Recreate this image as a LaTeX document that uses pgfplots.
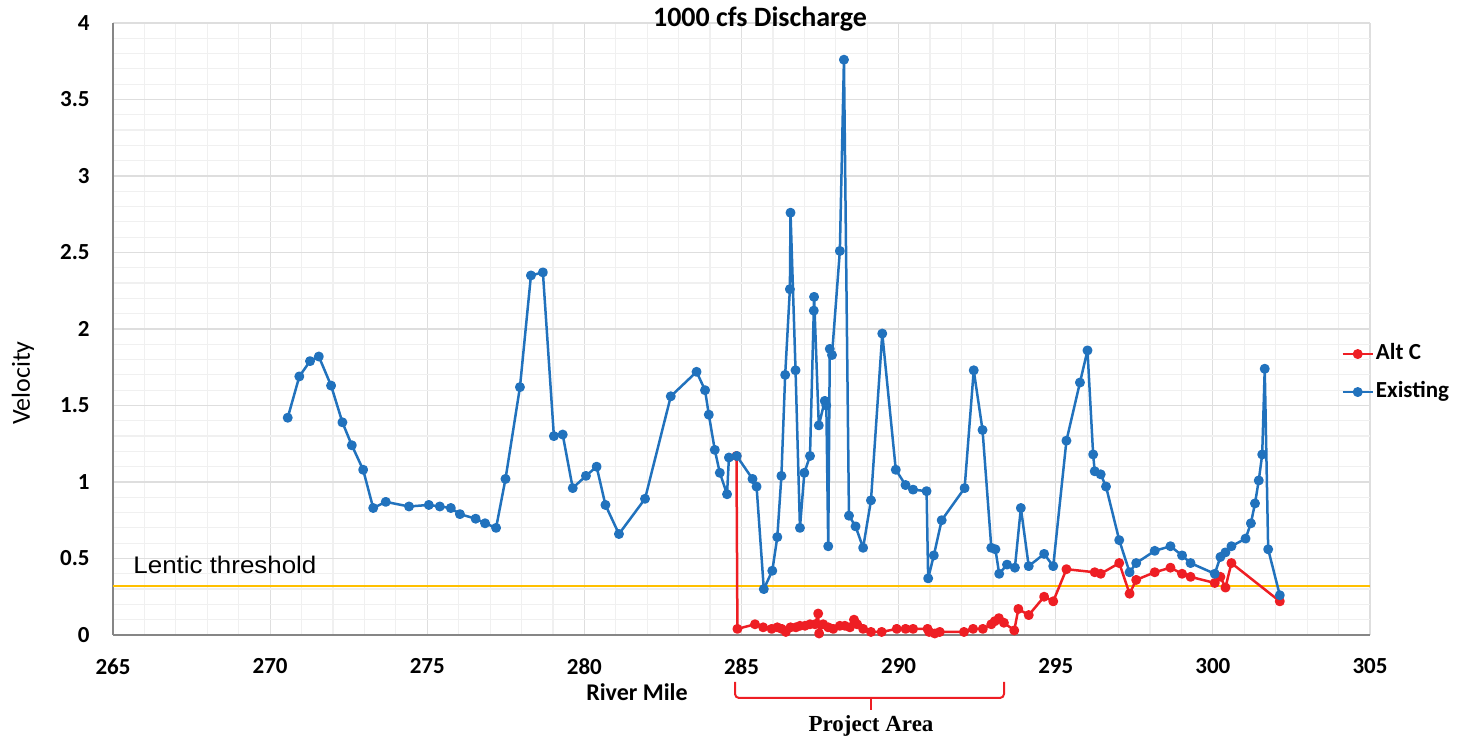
\documentclass[border=0pt]{standalone}
\usepackage{fontspec}
\setmainfont{Carlito}
\newfontfamily\arialfont{Liberation Sans}
\newfontfamily\timesfont{Liberation Serif}
\usepackage{pgfplots}
\pgfplotsset{compat=1.18}
\definecolor{exblue}{RGB}{33,114,189}
\definecolor{altred}{RGB}{238,30,36}
\definecolor{throrange}{RGB}{255,192,0}
\definecolor{axgray}{RGB}{134,134,134}
\begin{document}
\begin{tikzpicture}
\useasboundingbox (-56.5pt,-53.5pt) rectangle (675.5pt,317.5pt);
\begin{axis}[
  at={(0pt,0pt)}, anchor=south west,
  scale only axis, width=628.5pt, height=306pt,
  xmin=265, xmax=305, ymin=0, ymax=4,
  xtick distance=5, ytick distance=0.5,
  minor x tick num=4, minor y tick num=4,
  grid=both,
  major grid style={draw=black!13, line width=0.6pt},
  minor grid style={draw=black!6, line width=0.6pt},
  axis x line*=bottom, axis y line*=left,
  axis line style={draw=axgray, line width=1pt},
  major tick length=0pt, minor tick length=0pt,
  tick style={draw=none},
  /pgf/number format/assume math mode=true,
  ticklabel style={font=\fontsize{11.5}{13}\selectfont\bfseries, inner sep=0pt},
  xticklabel style={anchor=north, yshift=-11.5pt},
  yticklabel style={anchor=east, xshift=-11.5pt},
  clip=false,
  legend style={at={(rel axis cs:0.977,0.428)}, anchor=west, draw=none, fill=none,
    inner sep=0pt, row sep=8pt, column sep=1pt,
    font=\fontsize{11.5}{13}\selectfont\bfseries,
    nodes={inner sep=0pt, text height=8pt, text depth=3pt}},
  legend cell align=left,
  legend image code/.code={\draw[mark repeat=2,mark phase=2,#1] plot coordinates {(0pt,0pt) (7.5pt,0pt) (15pt,0pt)};},
]
\addplot[throrange, line width=1.4pt, forget plot] coordinates {(265,0.32) (305,0.32)};
\addplot[altred, line width=1.25pt, line join=round, mark=*, mark size=1.85pt, mark options={fill=altred, draw=altred}] coordinates {
(284.84,1.17) (284.87,0.04) (285.43,0.07) (285.69,0.05) (285.96,0.04) (286.14,0.05)
(286.28,0.04) (286.41,0.02) (286.56,0.05) (286.73,0.05) (286.86,0.06) (287.02,0.06)
(287.18,0.07) (287.34,0.07) (287.44,0.14) (287.47,0.01) (287.60,0.07) (287.76,0.05)
(287.92,0.04) (288.13,0.06) (288.29,0.06) (288.45,0.05) (288.58,0.10) (288.68,0.07)
(288.87,0.04) (289.12,0.02) (289.46,0.02) (289.94,0.04) (290.22,0.04) (290.46,0.04)
(290.92,0.04) (290.97,0.02) (291.15,0.01) (291.31,0.02) (292.08,0.02) (292.37,0.04)
(292.68,0.04) (292.95,0.07) (293.06,0.09) (293.19,0.11) (293.35,0.08) (293.68,0.03)
(293.81,0.17) (294.14,0.13) (294.63,0.25) (294.92,0.22) (295.34,0.43) (296.24,0.41)
(296.43,0.40) (297.02,0.47) (297.35,0.27) (297.56,0.36) (298.15,0.41) (298.65,0.44)
(299.02,0.40) (299.29,0.38) (300.06,0.34) (300.24,0.38) (300.40,0.31) (300.59,0.47)
(302.13,0.22)
};
\addlegendentry{Alt C}
\addplot[exblue, line width=1.25pt, line join=round, mark=*, mark size=1.85pt, mark options={fill=exblue, draw=exblue}] coordinates {
(270.56,1.42) (270.93,1.69) (271.27,1.79) (271.55,1.82) (271.94,1.63) (272.30,1.39)
(272.60,1.24) (272.96,1.08) (273.28,0.83) (273.68,0.87) (274.42,0.84) (275.05,0.85)
(275.40,0.84) (275.75,0.83) (276.04,0.79) (276.54,0.76) (276.84,0.73) (277.19,0.70)
(277.49,1.02) (277.95,1.62) (278.30,2.35) (278.68,2.37) (279.03,1.30) (279.31,1.31)
(279.63,0.96) (280.05,1.04) (280.39,1.10) (280.67,0.85) (281.10,0.66) (281.93,0.89)
(282.75,1.56) (283.57,1.72) (283.84,1.60) (283.96,1.44) (284.15,1.21) (284.31,1.06)
(284.54,0.92) (284.60,1.16) (284.85,1.17) (285.35,1.02) (285.48,0.97) (285.71,0.30)
(285.98,0.42) (286.14,0.64) (286.27,1.04) (286.39,1.70) (286.54,2.26) (286.56,2.76)
(286.72,1.73) (286.86,0.70) (287.00,1.06) (287.18,1.17) (287.30,2.12) (287.31,2.21)
(287.46,1.37) (287.65,1.53) (287.70,1.50) (287.76,0.58) (287.81,1.87) (287.88,1.83)
(288.13,2.51) (288.26,3.76) (288.42,0.78) (288.63,0.71) (288.87,0.57) (289.12,0.88)
(289.48,1.97) (289.91,1.08) (290.22,0.98) (290.46,0.95) (290.89,0.94) (290.94,0.37)
(291.12,0.52) (291.37,0.75) (292.10,0.96) (292.39,1.73) (292.67,1.34) (292.95,0.57)
(293.08,0.56) (293.20,0.40) (293.45,0.46) (293.70,0.44) (293.89,0.83) (294.14,0.45)
(294.63,0.53) (294.92,0.45) (295.34,1.27) (295.77,1.65) (296.01,1.86) (296.19,1.18)
(296.24,1.07) (296.43,1.05) (296.60,0.97) (297.02,0.62) (297.35,0.41) (297.56,0.47)
(298.15,0.55) (298.65,0.58) (299.02,0.52) (299.29,0.47) (300.06,0.40) (300.24,0.51)
(300.40,0.54) (300.59,0.58) (301.04,0.63) (301.21,0.73) (301.34,0.86) (301.46,1.01)
(301.57,1.18) (301.65,1.74) (301.76,0.56) (302.13,0.26)
};
\addlegendentry{Existing}
\end{axis}
% titles and labels
\node[anchor=base, font=\fontsize{14}{16}\selectfont\bfseries] at (323.5pt,304pt) {1000 cfs Discharge};
\node[anchor=base, font=\fontsize{12}{14}\selectfont\bfseries] at (262pt,-33pt) {River Mile};
\node[rotate=90, font=\fontsize{13}{15}\selectfont] at (-45pt,126pt) {Velocity};
\node[anchor=base west, inner sep=0pt, xscale=1.08, font=\arialfont\fontsize{12}{14}\selectfont] at (10pt,30.5pt) {Lentic threshold};
% project area bracket
\draw[altred, line width=1pt, rounded corners=2pt] (311pt,-23.5pt) -- (311pt,-31.5pt) -- (445.5pt,-31.5pt) -- (445.5pt,-23.5pt);
\draw[altred, line width=1pt] (378.9pt,-31.5pt) -- (378.9pt,-37.5pt);
\node[anchor=base, inner sep=0pt, font=\timesfont\bfseries\fontsize{11.5}{13}\selectfont] at (379pt,-48.5pt) {Project Area};
\end{tikzpicture}
\end{document}
